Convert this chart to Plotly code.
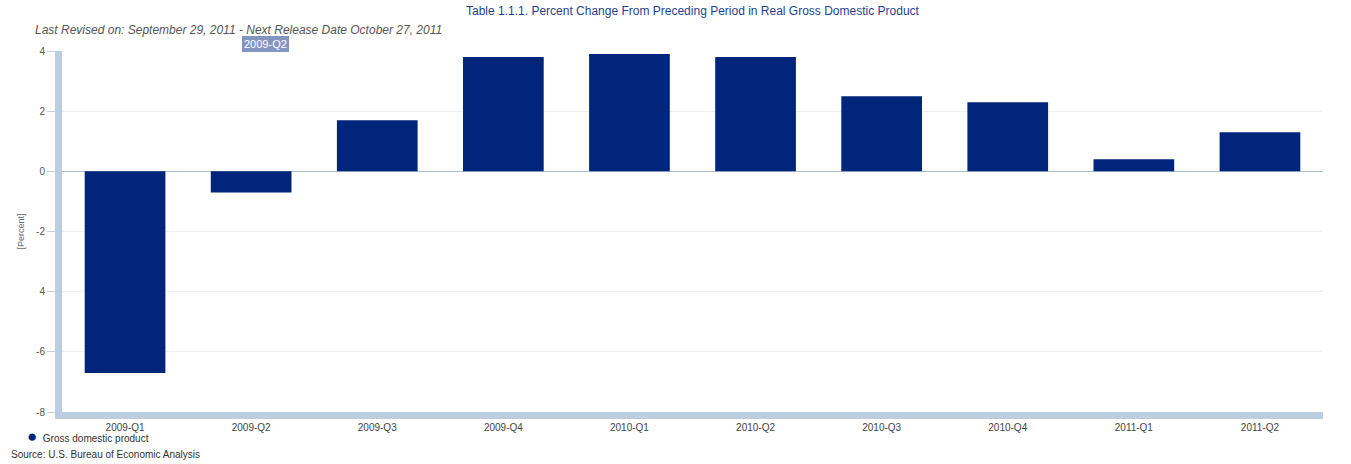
import plotly.graph_objects as go

quarters = ["2009-Q1", "2009-Q2", "2009-Q3", "2009-Q4", "2010-Q1",
            "2010-Q2", "2010-Q3", "2010-Q4", "2011-Q1", "2011-Q2"]
gdp_change = [-6.7, -0.7, 1.7, 3.8, 3.9, 3.8, 2.5, 2.3, 0.4, 1.3]
y_ticks = [4, 2, 0, -2, -4, -6, -8]
y_tick_text = ["4", "2", "0", "-2", "4", "-6", "-8"]

title_text = "Table 1.1.1. Percent Change From Preceding Period in Real Gross Domestic Product"
subtitle_text = "Last Revised on: September 29, 2011 - Next Release Date October 27, 2011"
series_name = "Gross domestic product"
source_text = "Source: U.S. Bureau of Economic Analysis"
highlight_label = "2009-Q2"

BAR = "#00257a"
AXIS = "#bccddf"
FONT = "Liberation Sans, Arial, sans-serif"

fig = go.Figure()
fig.add_trace(go.Bar(x=quarters, y=gdp_change, marker=dict(color=BAR, line=dict(width=0)),
                     showlegend=False, name=series_name))

fig.update_layout(
    width=1351, height=464,
    margin=dict(l=62, r=28, t=51, b=52, autoexpand=False),
    paper_bgcolor="white", plot_bgcolor="white",
    bargap=0.36,
    font=dict(family=FONT, size=10, color="#555555"),
    showlegend=False,
    xaxis=dict(showline=True, linewidth=7, linecolor=AXIS, showgrid=False,
               ticks="outside", ticklen=0, tickfont=dict(size=10, color="#444444"),
               zeroline=False, fixedrange=True),
    yaxis=dict(range=[-8, 4], tickvals=y_ticks, ticktext=y_tick_text,
               showline=True, linewidth=7, linecolor=AXIS,
               showgrid=True, gridcolor="#eeeeee", gridwidth=1,
               zeroline=True, zerolinecolor="#a9bfd6", zerolinewidth=1,
               ticks="outside", ticklen=8, tickcolor="#c0d0e0",
               tickfont=dict(size=10, color="#555555"),
               title=dict(text="[Percent]", font=dict(size=9, color="#666666"), standoff=12)),
    annotations=[
        dict(text=title_text, x=0.5, y=1, xref="paper", yref="paper", yanchor="top",
             xanchor="center", showarrow=False, yshift=49,
             font=dict(size=12, color="#1f3f8f")),
        dict(text="<i>" + subtitle_text + "</i>", x=-0.023, y=1, xref="paper", yref="paper",
             xanchor="left", yanchor="top", showarrow=False, yshift=30,
             font=dict(size=12, color="#555555")),
        dict(text=highlight_label, x=highlight_label, y=1, xref="x", yref="paper",
             xanchor="center", yanchor="top", showarrow=False, yshift=15, xshift=14,
             bgcolor="#8595c2", bordercolor="#8595c2", borderpad=1,
             font=dict(size=11, color="white")),
        dict(text="<span style='color:%s;font-size:17px'>●</span>  %s" % (BAR, series_name),
             x=-0.029, y=0, xref="paper", yref="paper",
             xanchor="left", yanchor="top", showarrow=False, yshift=-13,
             font=dict(size=10, color="#333333")),
        dict(text=source_text, x=-0.042, y=0, xref="paper", yref="paper",
             xanchor="left", yanchor="top", showarrow=False, yshift=-35,
             font=dict(size=10, color="#333333")),
    ],
)

fig.write_html("out.html")
